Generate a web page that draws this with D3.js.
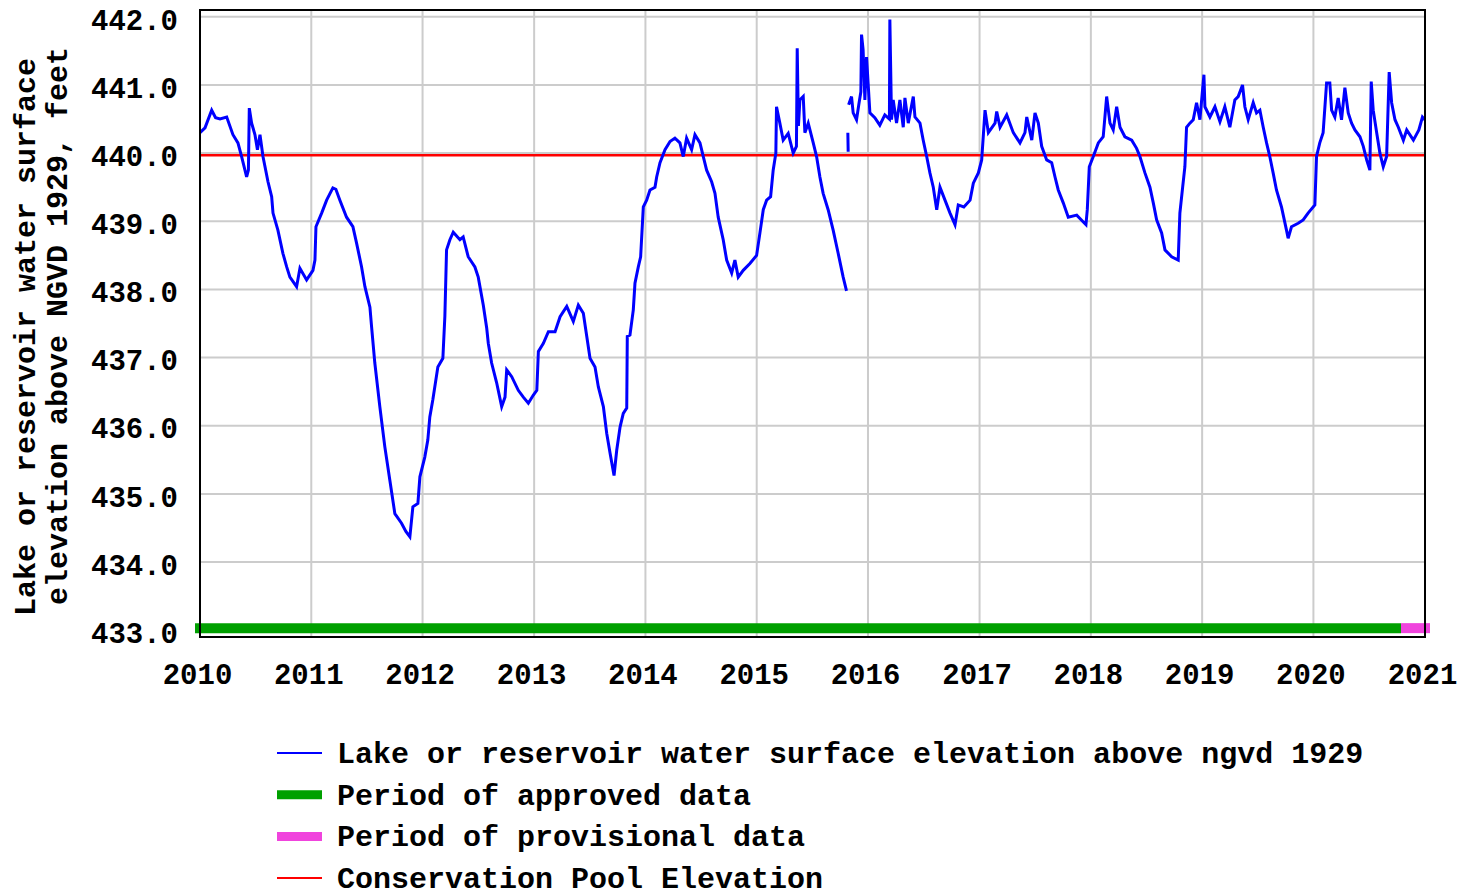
<!DOCTYPE html>
<html>
<head>
<meta charset="utf-8">
<script src="https://cdn.jsdelivr.net/npm/d3@7.9.0/dist/d3.min.js"></script>
<style>
  html, body { margin: 0; padding: 0; background: #fff; }
  svg text { font-family: "Liberation Mono", "DejaVu Sans Mono", monospace; font-weight: bold; fill: #000; }
</style>
</head>
<body>
<svg id="chart" width="1477" height="896"></svg>
<script>
// decimal years (null = gap in record)
const years = [
  2010.000, 2010.045, 2010.105, 2010.140, 2010.180, 2010.240, 2010.296, 2010.341, 2010.374, 2010.419,
  2010.435, 2010.443, 2010.464, 2010.494, 2010.516, 2010.539, 2010.566, 2010.611, 2010.644, 2010.656,
  2010.700, 2010.745, 2010.779, 2010.808, 2010.868, 2010.898, 2010.958, 2011.015, 2011.033, 2011.042,
  2011.093, 2011.138, 2011.194, 2011.221, 2011.257, 2011.317, 2011.374, 2011.407, 2011.452, 2011.482,
  2011.527, 2011.542, 2011.571, 2011.616, 2011.661, 2011.706, 2011.751, 2011.811, 2011.850, 2011.886,
  2011.913, 2011.958, 2011.976, 2012.020, 2012.047, 2012.065, 2012.092, 2012.137, 2012.182, 2012.200,
  2012.215, 2012.245, 2012.275, 2012.335, 2012.364, 2012.409, 2012.469, 2012.499, 2012.544, 2012.575,
  2012.589, 2012.619, 2012.664, 2012.709, 2012.739, 2012.754, 2012.799, 2012.858, 2012.903, 2012.948,
  2012.993, 2013.024, 2013.038, 2013.083, 2013.128, 2013.188, 2013.233, 2013.293, 2013.352, 2013.397,
  2013.442, 2013.473, 2013.502, 2013.547, 2013.577, 2013.622, 2013.652, 2013.682, 2013.718, 2013.742,
  2013.772, 2013.801, 2013.832, 2013.837, 2013.861, 2013.891, 2013.906, 2013.936, 2013.957, 2013.981,
  2014.011, 2014.041, 2014.086, 2014.101, 2014.131, 2014.176, 2014.221, 2014.265, 2014.310, 2014.340,
  2014.370, 2014.415, 2014.445, 2014.490, 2014.520, 2014.550, 2014.595, 2014.625, 2014.654, 2014.699,
  2014.730, 2014.775, 2014.804, 2014.834, 2014.879, 2014.939, 2014.999, 2015.029, 2015.059, 2015.089,
  2015.125, 2015.148, 2015.172, 2015.178, 2015.208, 2015.238, 2015.283, 2015.328, 2015.357, 2015.364,
  2015.375, 2015.388, 2015.418, 2015.433, 2015.463, 2015.508, 2015.538, 2015.568, 2015.597, 2015.642,
  2015.687, 2015.732, 2015.777, 2015.807, 2015.810, 2015.819, 2015.822, 2015.824, 2015.826, 2015.852,
  2015.867, 2015.897, 2015.920, 2015.936, 2015.942, 2015.956, 2015.972, 2015.987, 2016.001, 2016.017,
  2016.061, 2016.106, 2016.151, 2016.192, 2016.196, 2016.211, 2016.226, 2016.256, 2016.286, 2016.316,
  2016.331, 2016.361, 2016.406, 2016.421, 2016.466, 2016.495, 2016.526, 2016.555, 2016.585, 2016.616,
  2016.645, 2016.690, 2016.735, 2016.780, 2016.809, 2016.859, 2016.915, 2016.944, 2016.989, 2017.019,
  2017.049, 2017.079, 2017.139, 2017.154, 2017.184, 2017.244, 2017.303, 2017.363, 2017.408, 2017.424,
  2017.469, 2017.498, 2017.528, 2017.558, 2017.603, 2017.648, 2017.678, 2017.707, 2017.752, 2017.797,
  2017.873, 2017.956, 2017.968, 2017.986, 2018.022, 2018.067, 2018.111, 2018.142, 2018.172, 2018.201,
  2018.232, 2018.262, 2018.306, 2018.367, 2018.411, 2018.441, 2018.486, 2018.531, 2018.561, 2018.591,
  2018.636, 2018.666, 2018.726, 2018.785, 2018.800, 2018.825, 2018.845, 2018.860, 2018.890, 2018.920,
  2018.950, 2018.980, 2019.016, 2019.025, 2019.070, 2019.115, 2019.160, 2019.204, 2019.249, 2019.294,
  2019.324, 2019.363, 2019.384, 2019.414, 2019.459, 2019.489, 2019.519, 2019.549, 2019.579, 2019.608,
  2019.638, 2019.668, 2019.713, 2019.758, 2019.773, 2019.803, 2019.863, 2019.908, 2019.952, 2020.013,
  2020.028, 2020.057, 2020.087, 2020.118, 2020.147, 2020.163, 2020.192, 2020.222, 2020.252, 2020.282,
  2020.312, 2020.342, 2020.372, 2020.417, 2020.447, 2020.477, 2020.506, 2020.518, 2020.536, 2020.567,
  2020.596, 2020.626, 2020.656, 2020.679, 2020.701, 2020.731, 2020.761, 2020.806, 2020.836, 2020.896,
  2020.945, 2020.977, 2020.998
];

const elevations = [
  440.30, 440.37, 440.63, 440.52, 440.50, 440.53, 440.27, 440.15, 439.95, 439.65,
  439.75, 440.66, 440.44, 440.27, 440.05, 440.27, 439.95, 439.58, 439.36, 439.12,
  438.87, 438.53, 438.33, 438.18, 438.04, 438.31, 438.14, 438.28, 438.43, 438.92,
  439.12, 439.31, 439.49, 439.47, 439.31, 439.06, 438.92, 438.68, 438.33, 438.04,
  437.74, 437.45, 436.92, 436.28, 435.69, 435.20, 434.71, 434.57, 434.45, 434.37,
  434.81, 434.86, 435.25, 435.54, 435.79, 436.13, 436.38, 436.86, 436.99, 437.61,
  438.58, 438.73, 438.84, 438.73, 438.77, 438.48, 438.33, 438.18, 437.77, 437.43,
  437.21, 436.92, 436.63, 436.28, 436.42, 436.82, 436.72, 436.52, 436.42, 436.33,
  436.45, 436.52, 437.09, 437.21, 437.38, 437.38, 437.60, 437.75, 437.53, 437.77,
  437.65, 437.31, 436.99, 436.86, 436.57, 436.28, 435.89, 435.60, 435.27, 435.64,
  435.98, 436.18, 436.26, 437.31, 437.33, 437.70, 438.09, 438.33, 438.48, 439.21,
  439.31, 439.46, 439.50, 439.65, 439.86, 440.05, 440.17, 440.22, 440.15, 439.95,
  440.22, 440.05, 440.27, 440.15, 439.95, 439.75, 439.58, 439.41, 439.06, 438.73,
  438.43, 438.24, 438.43, 438.18, 438.28, 438.38, 438.50, 438.83, 439.17, 439.31,
  439.36, 439.75, 440.00, 440.68, 440.44, 440.19, 440.29, 440.00, 440.10, 441.54,
  440.40, 440.78, 440.83, 440.30, 440.44, 440.15, 439.95, 439.65, 439.41, 439.17,
  438.87, 438.53, 438.18, 437.98, null,   440.30, 440.02, null,   440.71, 440.83,
  440.59, 440.49, 440.74, 440.90, 441.74, 441.52, 440.78, 441.41, 441.03, 440.59,
  440.52, 440.41, 440.56, 440.50, 441.96, 440.49, 440.78, 440.44, 440.78, 440.38,
  440.81, 440.44, 440.83, 440.53, 440.44, 440.19, 439.95, 439.71, 439.50, 439.17,
  439.50, 439.31, 439.12, 438.95, 439.24, 439.21, 439.31, 439.56, 439.71, 439.90,
  440.63, 440.30, 440.44, 440.61, 440.38, 440.56, 440.30, 440.15, 440.30, 440.53,
  440.19, 440.59, 440.44, 440.10, 439.90, 439.86, 439.65, 439.46, 439.27, 439.06,
  439.09, 438.95, 439.17, 439.80, 439.95, 440.15, 440.24, 440.83, 440.44, 440.34,
  440.68, 440.38, 440.24, 440.19, 440.07, 439.95, 439.71, 439.50, 439.27, 439.02,
  438.83, 438.58, 438.48, 438.43, 439.12, 439.50, 439.80, 440.38, 440.44, 440.49,
  440.74, 440.49, 441.15, 440.68, 440.53, 440.68, 440.46, 440.68, 440.38, 440.78,
  440.83, 441.00, 440.68, 440.49, 440.74, 440.59, 440.63, 440.38, 440.15, 439.95,
  439.71, 439.46, 439.21, 438.87, 438.75, 438.92, 438.97, 439.02, 439.12, 439.24,
  439.95, 440.15, 440.30, 441.03, 441.03, 440.63, 440.53, 440.81, 440.49, 440.96,
  440.59, 440.44, 440.34, 440.24, 440.10, 439.90, 439.75, 441.05, 440.63, 440.30,
  440.00, 439.80, 439.95, 441.19, 440.74, 440.49, 440.38, 440.19, 440.34, 440.19,
  440.34, 440.53, 440.49
];

const conservationPool = 439.97;
const approvedPeriod = [2010.0, 2020.785];
const provisionalPeriod = [2020.785, 2021.0];
const periodLevel = 433.03;

const yTicks = [433, 434, 435, 436, 437, 438, 439, 440, 441, 442];
const xTickYears = [2010, 2011, 2012, 2013, 2014, 2015, 2016, 2017, 2018, 2019, 2020, 2021];
const yTitle = ["Lake or reservoir water surface", "elevation above NGVD 1929, feet"];
const legendLabels = [
  "Lake or reservoir water surface elevation above ngvd 1929",
  "Period of approved data",
  "Period of provisional data",
  "Conservation Pool Elevation"
];

function toDate(t) {
  const yr = Math.floor(t);
  const a = new Date(yr, 0, 1), b = new Date(yr + 1, 0, 1);
  return new Date(+a + (t - yr) * (b - a));
}

const plotLeft = 200, plotRight = 1425, plotTop = 10, plotBottom = 637;
const svg = d3.select("#chart");

const x = d3.scaleTime()
  .domain([new Date(2010, 0, 1), new Date(2021, 0, 1)])
  .range([plotLeft, plotRight]);
const y = d3.scaleLinear()
  .domain([432.9, 442.1])
  .range([plotBottom, plotTop]);

const grid = svg.append("g").attr("stroke", "#cccccc").attr("stroke-width", 2);
grid.selectAll(".h").data(yTicks).join("line")
  .attr("x1", plotLeft).attr("x2", plotRight)
  .attr("y1", d => y(d)).attr("y2", d => y(d));
grid.selectAll(".v").data(xTickYears.slice(1, -1)).join("line")
  .attr("y1", plotTop).attr("y2", plotBottom)
  .attr("x1", d => x(new Date(d, 0, 1))).attr("x2", d => x(new Date(d, 0, 1)));

// axes (labels only, ticks hidden)
const yAxis = d3.axisLeft(y).tickValues(yTicks).tickFormat(d3.format(".1f")).tickSize(0).tickPadding(22);
svg.append("g").attr("transform", `translate(${plotLeft},0)`).call(yAxis)
  .call(g => g.select(".domain").remove())
  .call(g => g.selectAll("text").attr("font-size", 29).attr("dy", "0.42em")
    .attr("font-family", null));

const xAxis = d3.axisBottom(x).tickValues(xTickYears.map(d => new Date(d, 0, 1)))
  .tickFormat(d3.timeFormat("%Y")).tickSize(0).tickPadding(26);
svg.append("g").attr("transform", `translate(-3,${plotBottom})`).call(xAxis)
  .call(g => g.select(".domain").remove())
  .call(g => g.selectAll("text").attr("font-size", 29).attr("font-family", null));

// conservation pool
svg.append("line")
  .attr("x1", plotLeft).attr("x2", plotRight)
  .attr("y1", y(conservationPool)).attr("y2", y(conservationPool))
  .attr("stroke", "#ff0000").attr("stroke-width", 2.5);

// data periods
const periods = [
  { span: approvedPeriod, color: "#00a000" },
  { span: provisionalPeriod, color: "#f044dd" }
];
svg.selectAll(".period").data(periods).join("line")
  .attr("x1", d => x(toDate(d.span[0])) - (d.span[0] === 2010 ? 5 : 0))
  .attr("x2", d => x(toDate(d.span[1])) + (d.span[1] === 2021 ? 5 : 0))
  .attr("y1", y(periodLevel)).attr("y2", y(periodLevel))
  .attr("stroke", d => d.color).attr("stroke-width", 10);

// elevation series
const series = years.map((t, i) => ({ date: toDate(t), value: elevations[i] }));
const line = d3.line()
  .defined(d => d.value != null)
  .x(d => x(d.date))
  .y(d => y(d.value));
svg.append("path")
  .datum(series)
  .attr("d", line)
  .attr("fill", "none")
  .attr("stroke", "#0000ff")
  .attr("stroke-width", 3)
  .attr("stroke-linejoin", "miter");

// frame
svg.append("rect")
  .attr("x", plotLeft).attr("y", plotTop)
  .attr("width", plotRight - plotLeft).attr("height", plotBottom - plotTop)
  .attr("fill", "none").attr("stroke", "#000").attr("stroke-width", 2);

// y title
svg.selectAll(".ytitle").data(yTitle).join("text")
  .attr("transform", (d, i) => i === 0 ? "translate(35,337) rotate(-90)" : "translate(67,326) rotate(-90)")
  .attr("text-anchor", "middle")
  .attr("font-size", 30)
  .text(d => d);

// legend
const legendStyles = [
  { color: "#0000ff", width: 2 },
  { color: "#00a000", width: 9 },
  { color: "#f044dd", width: 9 },
  { color: "#ff0000", width: 2 }
];
const legend = svg.append("g");
const rows = legend.selectAll("g").data(legendLabels).join("g")
  .attr("transform", (d, i) => `translate(0,${753 + i * 41.7})`);
rows.append("line")
  .attr("x1", 277).attr("x2", 322)
  .attr("stroke", (d, i) => legendStyles[i].color)
  .attr("stroke-width", (d, i) => legendStyles[i].width);
rows.append("text")
  .attr("x", 337).attr("y", 10)
  .attr("font-size", 30)
  .text(d => d);
</script>
</body>
</html>
